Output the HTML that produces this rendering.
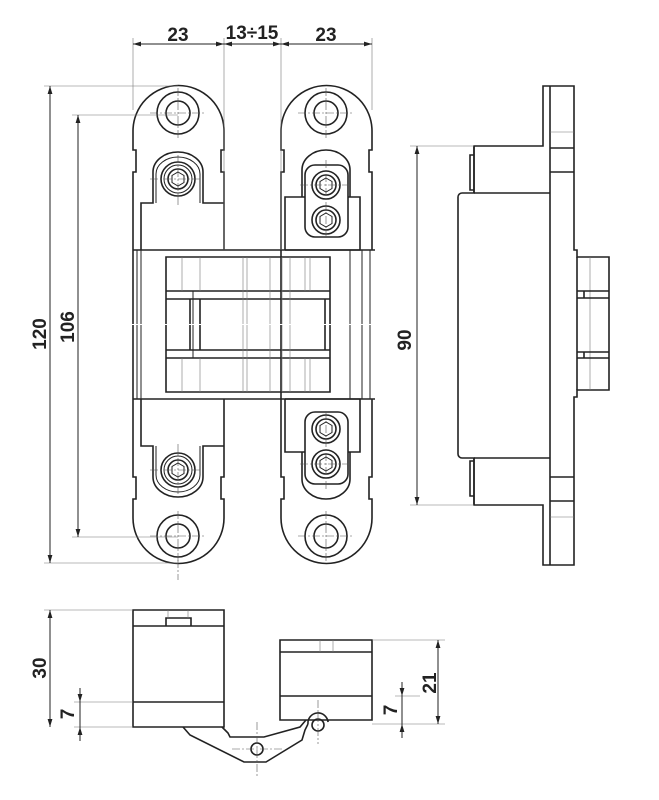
<!DOCTYPE html>
<html><head><meta charset="utf-8"><style>
html,body{margin:0;padding:0;background:#fff}
svg{display:block}
text{font-family:"Liberation Sans","DejaVu Sans",sans-serif;font-weight:bold;font-size:19px;fill:#222}
.k{fill:none;stroke:#222;stroke-width:1.6}
.m{fill:none;stroke:#222;stroke-width:1}
.t{fill:none;stroke:#777;stroke-width:0.6}
.c{fill:none;stroke:#555;stroke-width:0.6;stroke-dasharray:8 2 2 2}
</style></head><body>
<svg width="659" height="800" viewBox="0 0 659 800" xmlns="http://www.w3.org/2000/svg">
<defs>
<marker id="a" viewBox="0 0 10 10" refX="10" refY="5" markerWidth="8" markerHeight="8" orient="auto-start-reverse" markerUnits="userSpaceOnUse"><path d="M0,2 L10,5 L0,8 Z" fill="#222"/></marker>
<g id="half">
  <path class="k" d="M133,324 L133,172 L136,172 L136,150 L133,150 L133,131 A45.5,45.5 0 0 1 224,131 L224,150 L221,150 L221,172 L224,172 L224,250"/>
  <path class="k" d="M141,250 L141,203 L153,203 L153,172 A25,20 0 0 1 203,172 L203,203 L224,203"/>
  <path class="m" d="M156,203 L156,174 A22,17 0 0 1 200,174 L200,203"/>
  <circle class="k" cx="178" cy="113" r="21"/><circle class="k" cx="178" cy="113" r="12"/>
  <circle class="k" cx="178" cy="179" r="17"/><circle class="m" cx="178" cy="179" r="14"/><circle class="k" cx="178" cy="179" r="10"/>
  <path class="m" d="M178,172 l6,3.5 v7 l-6,3.5 l-6,-3.5 v-7 z"/>
  <path class="k" d="M281,324 L281,172 L284,172 L284,150 L281,150 L281,131 A45.5,45.5 0 0 1 372,131 L372,150 L369,150 L369,172 L372,172 L372,250"/>
  <path class="k" d="M302,197 L302,170 A24,20 0 0 1 350,170 L350,197"/>
  <path class="k" d="M285,250 L285,197 L305,197 M348,197 L360,197 L360,250 L285,250"/>
  <rect class="k" x="305" y="165" width="43" height="72" rx="10"/>
  <circle class="k" cx="326" cy="185" r="14"/><circle class="k" cx="326" cy="185" r="10"/>
  <path class="m" d="M326,178 l6,3.5 v7 l-6,3.5 l-6,-3.5 v-7 z"/>
  <circle class="k" cx="326" cy="220" r="14"/><circle class="k" cx="326" cy="220" r="10"/>
  <path class="m" d="M326,213 l6,3.5 v7 l-6,3.5 l-6,-3.5 v-7 z"/>
  <circle class="k" cx="326" cy="113" r="21"/><circle class="k" cx="326" cy="113" r="12"/>
  <path class="k" d="M133,250 L375,250"/>
  <path class="k" d="M166,324 L166,257 L330,257 L330,324"/>
  <path class="k" d="M166,291 L330,291 M166,299 L330,299 M190,299 L190,324 M200,299 L200,324 M325,299 L325,324"/>
  <path class="m" d="M137,250 V324 M141,250 V324 M350,250 V324 M362,250 V324 M370,250 V324 M193,291 V324"/>
  <path class="t" d="M182,257 V291 M200,257 V291 M243,257 V324 M247,257 V324 M270,257 V324 M282,257 V324 M290,257 V324 M305,257 V291 M310,257 V291"/>
  <path class="c" d="M150,113 H206 M178,88 V140 M150,179 H206 M178,155 V206 M298,113 H354 M326,88 V140 M300,185 H352 M326,160 V240"/>
</g>
</defs>
<use href="#half"/>
<use href="#half" transform="translate(0,649) scale(1,-1)"/>
<path class="c" d="M178,560 V580"/>

<path class="t" d="M133,38 V110 M224,38 V250 M281,38 V250 M372,38 V110"/>
<path class="m" d="M133,44 H224" marker-start="url(#a)" marker-end="url(#a)"/>
<path class="m" d="M224,44 H281" marker-start="url(#a)" marker-end="url(#a)"/>
<path class="m" d="M281,44 H372" marker-start="url(#a)" marker-end="url(#a)"/>
<text x="178" y="41" text-anchor="middle">23</text>
<text x="252" y="39" text-anchor="middle">13÷15</text>
<text x="326" y="41" text-anchor="middle">23</text>

<path class="t" d="M44,86 H178 M72,115 H178 M72,537 H178 M44,563 H178"/>
<path class="m" d="M50,86 V563" marker-start="url(#a)" marker-end="url(#a)"/>
<path class="m" d="M78,115 V537" marker-start="url(#a)" marker-end="url(#a)"/>
<text transform="translate(46,334) rotate(-90)" text-anchor="middle">120</text>
<text transform="translate(74,327) rotate(-90)" text-anchor="middle">106</text>

<path class="k" d="M543,86 H574 V250 H577 V257 H609 V390 H577 V397 H574 V565 H543 V505 H474 V458 H462 A4,4 0 0 1 458,454 V197 A4,4 0 0 1 462,193 H474 V146 H543 Z"/>
<path class="k" d="M550,86 V565 M474,146 V193 M474,458 V505 M474,193 H550 M474,458 H550 M550,148 H574 M550,172 H574 M550,477 H574 M550,501 H574 M470,155 H474 V190 H470 Z M470,461 H474 V496 H470 Z"/>
<path class="t" d="M550,132 H574 M550,517 H574 M590,257 V390"/>
<path class="k" d="M577,257 V390 M577,291 H609 M577,298 H609 M577,352 H609 M577,358 H609 M584,291 V298 M584,352 V358"/>
<path class="t" d="M410,146 H474 M410,505 H474"/>
<path class="m" d="M417,146 V505" marker-start="url(#a)" marker-end="url(#a)"/>
<text transform="translate(411,340) rotate(-90)" text-anchor="middle">90</text>

<path class="k" d="M133,610 H224 V727 H133 Z M133,626 H224 M133,702 H224 M166,626 V618 H191 V626"/>
<path class="t" d="M168,610 V618 M188,610 V618"/>
<path class="k" d="M280,640 H372 V720 H280 Z M280,652 H372 M280,696 H372"/>
<path class="t" d="M320,640 V652 M333,640 V652"/>
<path class="k" d="M183,727 L190,735 L244,762 L266,762 L302,740 L305,730 L308,724 M222,727 L228,733 L230,737 L264,737 L300,727 L306,720"/>
<path class="k" d="M308,724 A10,10 0 0 1 328,722 L328,720"/>
<circle class="k" cx="318" cy="725" r="6"/>
<circle class="k" cx="257" cy="749" r="6"/>
<path class="c" d="M257,722 V776 M232,749 H282 M318,700 V744"/>
<path class="t" d="M44,610 H133 M74,727 H133 M74,702 H133 M372,640 H445 M395,696 H420 M372,724 H445"/>
<path class="m" d="M50,610 V727" marker-start="url(#a)" marker-end="url(#a)"/>
<path class="m" d="M80,688 V702" marker-end="url(#a)"/>
<path class="m" d="M80,741 V727" marker-end="url(#a)"/>
<path class="m" d="M80,702 V727"/>
<path class="m" d="M438,640 V724" marker-start="url(#a)" marker-end="url(#a)"/>
<path class="m" d="M402,682 V696" marker-end="url(#a)"/>
<path class="m" d="M402,738 V724" marker-end="url(#a)"/>
<path class="m" d="M402,696 V724"/>
<text transform="translate(46,668) rotate(-90)" text-anchor="middle">30</text>
<text transform="translate(74,714) rotate(-90)" text-anchor="middle">7</text>
<text transform="translate(436,683) rotate(-90)" text-anchor="middle">21</text>
<text transform="translate(397,710) rotate(-90)" text-anchor="middle">7</text>
</svg>
</body></html>
